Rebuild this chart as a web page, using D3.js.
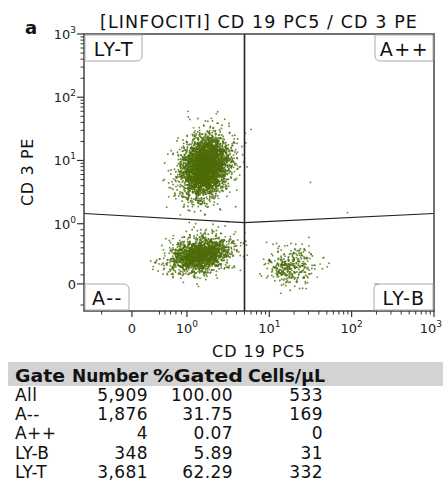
<!DOCTYPE html>
<html><head><meta charset="utf-8">
<script src="https://cdn.jsdelivr.net/npm/d3@7/dist/d3.min.js"></script>
<style>
body{margin:0;background:#fff}
svg{display:block;font-family:"DejaVu Sans",sans-serif}
</style>
</head><body>
<svg id="c" width="443" height="488"></svg>
<script>
// ---------------- data ----------------
const panelLetter = "a";
const title = "[LINFOCITI] CD 19 PC5 / CD 3 PE";
const xLabel = "CD 19 PC5";
const yLabel = "CD 3 PE";

// axis ticks (data values)
const majorTickValues = [0, 1, 10, 100, 1000];
const majorTickLabels = ["0", "10|0", "10|1", "10|2", "10|3"];
const xMinorTicks = [-0.55, 0.5, 0.6, 0.7, 0.8, 0.9, 2,3,4,5,6,7,8,9, 20,30,40,50,60,70,80,90, 200,300,400,500,600,700,800,900];
const yMinorTicks = [-0.35, 0.15, 0.35, 0.5, 0.6, 0.7, 0.8, 0.9, 2,3,4,5,6,7,8,9, 20,30,40,50,60,70,80,90, 200,300,400,500,600,700,800,900];

// quadrant gate (data values)
const gateXThreshold = 5;
const gateLineX = [-1, 5, 1000];
const gateLineY = [1.45, 1.04, 1.45];
const quadrantNames = ["LY-T", "A++", "A--", "LY-B"];

// statistics table
const tableHeader = ["Gate", "Number", "%Gated", "Cells/μL"];
const gateNames = ["All", "A--", "A++", "LY-B", "LY-T"];
const gateNumbers = [5909, 1876, 4, 348, 3681];
const gatePercents = [100.00, 31.75, 0.07, 5.89, 62.29];
const gateCells = [533, 169, 0, 31, 332];

// event populations: centre (data values), spread (decades), tilt
// event counts come from the table above
const clusterNames = ["A--", "LY-B", "LY-T"];
const clusterCount = [1876, 348, 3681];
const clusterCX = [1.45, 18, 1.66];
const clusterCY = [0.485, 0.29, 8.0];
const clusterSX = [0.185, 0.15, 0.145];
const clusterSY = [0.14, 0.15, 0.235];
const clusterRho = [0.25, 0.1, 0.2];
// the four A++ events, read individually
const aPPX = [6.0, 5.2, 31.6, 89];
const aPPY = [31, 19, 4.5, 1.5];

// ---------------- scales ----------------
// display transform: log above 1, linear below 1 (logicle-like)
const AX = 0.668, AY = 0.952;
const tX = v => v >= 1 ? Math.log10(v) : (v - 1) * AX;
const tXinv = t => t >= 0 ? Math.pow(10, t) : 1 + t / AX;
const tY = v => v >= 1 ? Math.log10(v) : (v - 1) * AY;
const tYinv = t => t >= 0 ? Math.pow(10, t) : 1 + t / AY;

const L = 84, R = 434, T = 34, B = 311;
const xs = d3.scaleLinear().domain([-1.25, 3]).range([L, R]);
const ys = d3.scaleLinear().domain([-1.38, 3]).range([B, T]);
const X = v => xs(tX(v));
const Y = v => ys(tY(v));

const svg = d3.select("#c");
const ink = "#333";

// ---------------- events ----------------
const rng = d3.randomLcg(0.2718);
const norm = d3.randomNormal.source(rng)(0, 1);
const events = [];
clusterNames.forEach((n, i) => {
  const cx = tX(clusterCX[i]), cy = tY(clusterCY[i]);
  const r = clusterRho[i], k = Math.sqrt(1 - r * r);
  for (let j = 0; j < clusterCount[i]; j++) {
    const a = norm(), b = norm();
    events.push([tXinv(cx + clusterSX[i] * a), tYinv(cy + clusterSY[i] * (r * a + k * b))]);
  }
});
aPPX.forEach((v, i) => events.push([v, aPPY[i]]));

svg.append("clipPath").attr("id", "clip").append("rect")
  .attr("x", L).attr("y", T).attr("width", R - L).attr("height", B - T);

svg.append("g").attr("clip-path", "url(#clip)")
  .selectAll("circle").data(events).join("circle")
  .attr("cx", d => X(d[0])).attr("cy", d => Y(d[1])).attr("r", 0.95)
  .attr("fill", "#4d6d0a").attr("fill-opacity", 0.8);

// ---------------- gates ----------------
svg.append("line").attr("x1", X(gateXThreshold)).attr("x2", X(gateXThreshold))
  .attr("y1", T).attr("y2", B).attr("stroke", "#222").attr("stroke-width", 1.6);
const gl = d3.line().x(d => d[0]).y(d => d[1]);
svg.append("path").attr("d", gl(gateLineX.map((v, i) => [Math.max(L, X(v)), Y(gateLineY[i])])))
  .attr("fill", "none").attr("stroke", "#222").attr("stroke-width", 1.1);

// frame
svg.append("rect").attr("x", L).attr("y", T).attr("width", R - L).attr("height", B - T)
  .attr("fill", "none").attr("stroke", "#444").attr("stroke-width", 1.5);

// quadrant label boxes
const bw = [57, 58, 44, 59], bh = 26, rr = 5;
function boxPath(x, y, w, h, corner) {
  const p = d3.path();
  p.moveTo(x, y);
  if (corner === "tr") { p.lineTo(x + w - rr, y); p.arcTo(x + w, y, x + w, y + rr, rr); } else p.lineTo(x + w, y);
  if (corner === "br") { p.lineTo(x + w, y + h - rr); p.arcTo(x + w, y + h, x + w - rr, y + h, rr); } else p.lineTo(x + w, y + h);
  if (corner === "bl") { p.lineTo(x + rr, y + h); p.arcTo(x, y + h, x, y + h - rr, rr); } else p.lineTo(x, y + h);
  if (corner === "tl") { p.lineTo(x, y + rr); p.arcTo(x, y, x + rr, y, rr); } else p.lineTo(x, y);
  p.closePath();
  return p.toString();
}
const boxes = [
  {x: L + 1, y: T + 1, w: bw[0], corner: "br"},
  {x: R - 1 - bw[1], y: T + 1, w: bw[1], corner: "bl"},
  {x: L + 1, y: B - 1 - bh, w: bw[2], corner: "tr"},
  {x: R - 1 - bw[3], y: B - 1 - bh, w: bw[3], corner: "tl"}
];
boxes.forEach((b, i) => {
  svg.append("path").attr("d", boxPath(b.x, b.y, b.w, bh, b.corner))
    .attr("fill", "#fff").attr("stroke", "#aaa").attr("stroke-width", 1);
  svg.append("text").attr("x", b.x + b.w / 2 + 0.5).attr("y", b.y + 21)
    .attr("text-anchor", "middle").attr("font-size", 19).attr("letter-spacing", 1.6)
    .attr("fill", "#111").text(quadrantNames[i]);
});

// ---------------- axes ----------------
function tickLabel(sel, lab) {
  const parts = lab.split("|");
  sel.append("tspan").text(parts[0]);
  if (parts[1] !== undefined) sel.append("tspan").attr("dy", -6).attr("font-size", 9).text(parts[1]);
}
// y axis
const ya = svg.append("g");
majorTickValues.forEach((v, i) => {
  ya.append("line").attr("x1", L - 7).attr("x2", L).attr("y1", Y(v)).attr("y2", Y(v)).attr("stroke", ink).attr("stroke-width", 1.2);
  const t = ya.append("text").attr("x", L - 8).attr("y", Y(v) + 5).attr("text-anchor", "end")
    .attr("font-size", 13).attr("fill", "#222");
  tickLabel(t, majorTickLabels[i]);
});
yMinorTicks.forEach(v => ya.append("line").attr("x1", L - 3.5).attr("x2", L).attr("y1", Y(v)).attr("y2", Y(v)).attr("stroke", ink).attr("stroke-width", 1));
// x axis
const xa = svg.append("g");
majorTickValues.forEach((v, i) => {
  xa.append("line").attr("y1", B).attr("y2", B + 6).attr("x1", X(v)).attr("x2", X(v)).attr("stroke", ink).attr("stroke-width", 1.2);
  const last = i === majorTickValues.length - 1;
  const t = xa.append("text").attr("x", last ? 442 : X(v)).attr("y", B + 22)
    .attr("text-anchor", last ? "end" : "middle")
    .attr("font-size", 13).attr("fill", "#222");
  tickLabel(t, majorTickLabels[i]);
});
xMinorTicks.forEach(v => xa.append("line").attr("y1", B).attr("y2", B + 3.5).attr("x1", X(v)).attr("x2", X(v)).attr("stroke", ink).attr("stroke-width", 1));

// axis titles
svg.append("text").attr("x", 259).attr("y", 357).attr("text-anchor", "middle")
  .attr("font-size", 16).attr("letter-spacing", 1).attr("fill", "#111").text(xLabel);
svg.append("text").attr("transform", "translate(33,172) rotate(-90)").attr("text-anchor", "middle")
  .attr("font-size", 16).attr("letter-spacing", 0.6).attr("fill", "#111").text(yLabel);

// title and panel letter
svg.append("text").attr("x", 259).attr("y", 28).attr("text-anchor", "middle")
  .attr("font-size", 17.5).attr("letter-spacing", 1.1).attr("fill", "#111").text(title);
svg.append("text").attr("x", 25).attr("y", 34).attr("font-size", 18).attr("font-weight", "bold")
  .attr("fill", "#111").text(panelLetter);

// ---------------- table ----------------
svg.append("rect").attr("x", 8).attr("y", 362).attr("width", 435).attr("height", 24).attr("fill", "#d3d3d3");
const hx = [15, 72, 153, 248], hw = [50, 76, 90, 77];
tableHeader.forEach((h, i) => svg.append("text").attr("x", hx[i]).attr("y", 382)
  .attr("font-size", 17).attr("font-weight", "bold").attr("textLength", hw[i]).attr("lengthAdjust", "spacingAndGlyphs")
  .attr("fill", "#111").text(h));
const fmtN = d3.format(",");
const fmtP = d3.format(".2f");
gateNames.forEach((g, i) => {
  const y = 401 + i * 19.2;
  const row = svg.append("g").attr("font-size", 17).attr("letter-spacing", 0.4).attr("fill", "#111");
  row.append("text").attr("x", 15).attr("y", y).text(g);
  row.append("text").attr("x", 148).attr("y", y).attr("text-anchor", "end").text(fmtN(gateNumbers[i]));
  row.append("text").attr("x", 233).attr("y", y).attr("text-anchor", "end").text(fmtP(gatePercents[i]));
  row.append("text").attr("x", 323).attr("y", y).attr("text-anchor", "end").text(gateCells[i]);
});
</script>
</body></html>
